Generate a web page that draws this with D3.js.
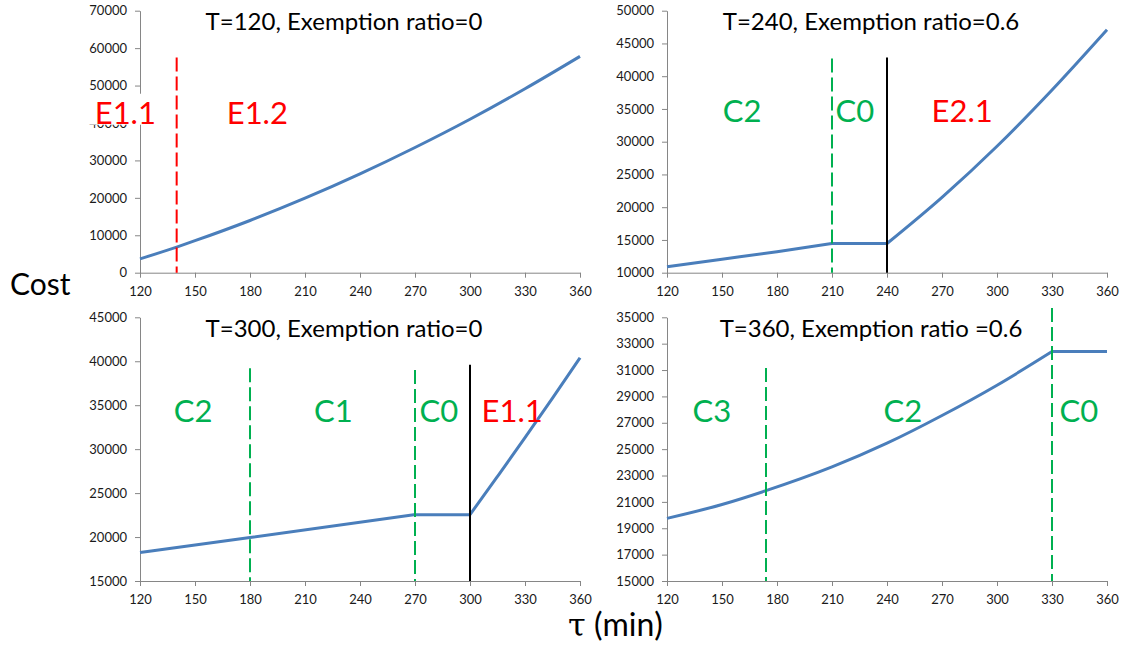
<!DOCTYPE html>
<html>
<head>
<meta charset="utf-8">
<script src="https://cdn.jsdelivr.net/npm/d3@7"></script>
<style>
  html, body { margin: 0; padding: 0; background: #fff; }
  svg { display: block; font-family: Lato, "Open Sans", sans-serif; }
  .axis path, .axis line { stroke: #868686; }
  .axis text { fill: #1a1a1a; font-size: 13px; font-family: Lato, "Open Sans", sans-serif; }
</style>
</head>
<body>
<div id="chart"></div>
<script>
// Cost vs tau, four scenarios
const tau1 = [120, 140, 150, 180, 210, 240, 270, 300, 330, 360];
const cost1 = [3700, 6850, 8550, 13950, 19900, 26400, 33450, 41000, 49150, 57800];

const tau2 = [120, 150, 180, 210, 240, 270, 300, 330, 360];
const cost2 = [10900, 12050, 13200, 14450, 14450, 21500, 29300, 37900, 47100];

const tau3 = [120, 180, 270, 300, 315, 330, 345, 360];
const cost3 = [18250, 19950, 22550, 22550, 26900, 31300, 35800, 40400];

const tau4 = [120, 150, 174, 210, 240, 270, 300, 330, 360];
const cost4 = [19750, 20800, 21850, 23650, 25450, 27550, 29850, 32400, 32400];

const xTicks = [120, 150, 180, 210, 240, 270, 300, 330, 360];
const titles = ['T=120, Exemption ratio=0', 'T=240, Exemption ratio=0.6',
                'T=300, Exemption ratio=0', 'T=360, Exemption ratio =0.6'];
const yDomains = [[0, 70000], [10000, 50000], [15000, 45000], [15000, 35000]];
const yTickSteps = [10000, 5000, 5000, 2000];
// kinks in each curve where the regime changes
const kinks = [[], [210, 240], [270, 300], [330]];

// boundaries: [tau, kind, top cost]
const bounds1 = [[140, 'red', 57500]];
const bounds2 = [[210, 'green', 42700], [240, 'black', 42850]];
const bounds3 = [[180, 'green', 39200], [270, 'green', 39000], [300, 'black', 39600]];
const bounds4 = [[174, 'green', 31150], [330, 'green', 35700]];

// regime labels: [text, tau, cost, kind]
const regions1 = [['E1.1', 112, 39800, 'red'], ['E1.2', 184, 39800, 'red']];
const regions2 = [['C2', 161, 32950, 'green'], ['C0', 222.5, 32950, 'green'], ['E2.1', 281, 32950, 'red']];
const regions3 = [['C2', 149, 33100, 'green'], ['C1', 225.5, 33100, 'green'], ['C0', 283, 33100, 'green'], ['E1.1', 323, 33100, 'red']];
const regions4 = [['C3', 144.5, 27060, 'green'], ['C2', 248.7, 27060, 'green'], ['C0', 344.7, 27060, 'green']];

const W = 1125, H = 646;
const colors = { red: '#ff0000', green: '#00b050', black: '#000000' };
const lineColor = '#4a7ebb';

const svg = d3.select('#chart').append('svg')
    .attr('width', W)
    .attr('height', H);

const panels = [
    { tau: tau1, cost: cost1, bounds: bounds1, regions: regions1, left: 140, top: 10.7, bottom: 272.7, whiteBox: 'E1.1' },
    { tau: tau2, cost: cost2, bounds: bounds2, regions: regions2, left: 667, top: 10.7, bottom: 272.7 },
    { tau: tau3, cost: cost3, bounds: bounds3, regions: regions3, left: 140, top: 317.3, bottom: 581 },
    { tau: tau4, cost: cost4, bounds: bounds4, regions: regions4, left: 667, top: 317.3, bottom: 581 }
];
const plotW = 440;

panels.forEach((p, i) => {
    const g = svg.append('g');
    const x = d3.scaleLinear().domain([120, 360]).range([p.left, p.left + plotW]);
    const y = d3.scaleLinear().domain(yDomains[i]).range([p.bottom, p.top]);
    const yTicks = d3.range(yDomains[i][0], yDomains[i][1] + 1, yTickSteps[i]);

    g.append('g')
        .attr('class', 'axis')
        .attr('transform', `translate(${p.left},0)`)
        .call(d3.axisLeft(y).tickValues(yTicks).tickFormat(d3.format('d'))
            .tickSize(5).tickSizeOuter(0).tickPadding(8));

    g.append('g')
        .attr('class', 'axis')
        .attr('transform', `translate(0,${p.bottom})`)
        .call(d3.axisBottom(x).tickValues(xTicks).tickFormat(d3.format('d'))
            .tickSize(5).tickSizeOuter(0).tickPadding(9));

    // curve split at the kinks so corners stay sharp
    const pts = p.tau.map((t, k) => [t, p.cost[k]]);
    const cuts = [120, ...kinks[i], 360];
    const line = d3.line().x(d => x(d[0])).y(d => y(d[1])).curve(d3.curveMonotoneX);
    for (let k = 0; k < cuts.length - 1; k++) {
        const seg = pts.filter(d => d[0] >= cuts[k] && d[0] <= cuts[k + 1]);
        g.append('path')
            .attr('d', line(seg))
            .attr('fill', 'none')
            .attr('stroke', lineColor)
            .attr('stroke-width', 3)
            .attr('stroke-linejoin', 'round');
    }

    // regime boundaries
    p.bounds.forEach(([t, kind, topCost]) => {
        g.append('line')
            .attr('x1', x(t)).attr('x2', x(t))
            .attr('y1', y(topCost)).attr('y2', p.bottom)
            .attr('stroke', colors[kind])
            .attr('stroke-width', 2)
            .attr('stroke-dasharray', kind === 'black' ? null : '14,5');
    });

    // regime labels (the E1.1 box covers the tick label behind it, as in the original)
    p.regions.forEach(([txt, t, c, kind]) => {
        if (txt === p.whiteBox) {
            g.append('rect')
                .attr('x', x(t) - 38).attr('y', y(c) - 30)
                .attr('width', 74).attr('height', 31)
                .attr('fill', '#fff');
        }
        g.append('text')
            .attr('x', x(t)).attr('y', y(c))
            .attr('text-anchor', 'middle')
            .style('font-size', '31px')
            .style('fill', colors[kind])
            .text(txt);
    });

    g.append('text')
        .attr('x', p.left + 204)
        .attr('y', p.top + 19.5)
        .attr('text-anchor', 'middle')
        .style('font-size', '24px')
        .style('fill', '#000')
        .text(titles[i]);
});

svg.append('text')
    .attr('x', 10).attr('y', 295)
    .style('font-size', '30px')
    .text('Cost');

const xLabel = svg.append('text')
    .attr('x', 568).attr('y', 636)
    .style('font-size', '32px');
xLabel.append('tspan').style('font-family', '"DejaVu Serif", serif').text('τ');
xLabel.append('tspan').text(' (min)');
</script>
</body>
</html>
